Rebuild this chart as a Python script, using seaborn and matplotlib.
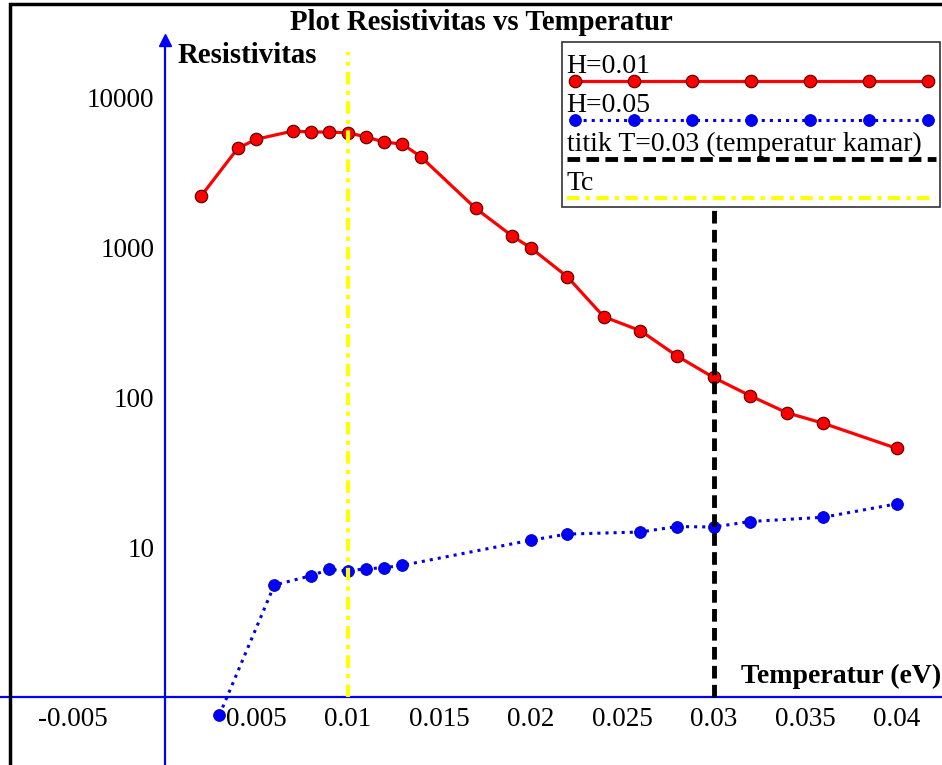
import numpy as np
import pandas as pd
import matplotlib
matplotlib.use('Agg')
import matplotlib.pyplot as plt
import matplotlib.patches as patches
from matplotlib.offsetbox import VPacker
import seaborn as sns

# data
T_h001 = [0.002, 0.004, 0.005, 0.007, 0.008, 0.009, 0.010, 0.011, 0.012, 0.013, 0.014,
          0.017, 0.019, 0.020, 0.022, 0.024, 0.026, 0.028, 0.030, 0.032, 0.034, 0.036, 0.040]
rho_h001 = [2190, 4550, 5230, 5930, 5850, 5840, 5780, 5430, 5010, 4860, 4000,
            1810, 1185, 990, 635, 343, 277, 188, 135, 102, 78.6, 66.8, 45.5]

T_h005 = [0.003, 0.006, 0.008, 0.009, 0.010, 0.011, 0.012, 0.013,
          0.020, 0.022, 0.026, 0.028, 0.030, 0.032, 0.036, 0.040]
rho_h005 = [0.76, 5.58, 6.44, 7.1, 6.92, 7.17, 7.28, 7.55,
            11.1, 12.2, 12.6, 13.7, 13.6, 14.8, 15.8, 19.4]

T_kamar = 0.03
Tc = 0.01
vline_top = 20000

xticks = [-0.005, 0.005, 0.01, 0.015, 0.02, 0.025, 0.03, 0.035, 0.04]
xtick_labels = ['-0.005', '0.005', '0.01', '0.015', '0.02', '0.025', '0.03', '0.035', '0.04']
yticks = [10, 100, 1000, 10000]
ytick_labels = ['10', '100', '1000', '10000']

df1 = pd.DataFrame({'T': T_h001, 'rho': rho_h001})
df2 = pd.DataFrame({'T': T_h005, 'rho': rho_h005})

sns.set_style('white')
plt.rcParams['font.family'] = ['Liberation Serif', 'DejaVu Serif']
plt.rcParams['text.color'] = 'black'

fig = plt.figure(figsize=(9.42, 7.65), dpi=100)
ax = fig.add_axes([0, 0, 1, 1])
ax.set_yscale('log')

sns.lineplot(data=df1, x='T', y='rho', ax=ax, color='#ff0000', lw=2.3, marker='o',
             markersize=9, markerfacecolor='#ff0000', markeredgecolor='#550000',
             markeredgewidth=0.8, label='H=0.01', sort=False, zorder=3)
sns.lineplot(data=df2, x='T', y='rho', ax=ax, color='#0000e0', lw=2.2, ls=':', marker='o',
             markersize=8.5, markerfacecolor='#0000ff', markeredgecolor='#0000aa',
             markeredgewidth=0.6, label='H=0.05', sort=False, zorder=3)

ax.vlines(T_kamar, 1, vline_top, colors='black', lw=3.5, linestyles=(0, (2.6, 1.3)),
          label='titik T=0.03 (temperatur kamar)', zorder=4)
ax.vlines(Tc, 1, vline_top, colors='#ffff00', lw=3.0, linestyles=(0, (3, 1.5, 1, 1.5)),
          label='Tc', zorder=4)

ax.set_xlim(-0.00899, 0.04248)
ax.set_ylim(10 ** -0.453, 10 ** 4.647)

# Maple-like axes crossing at T=0, rho=1
for s in ['top', 'right']:
    ax.spines[s].set_visible(False)
ax.spines['left'].set_position(('data', 0))
ax.spines['bottom'].set_position(('data', 1))
ax.spines['left'].set_color('#0000ff')
ax.spines['bottom'].set_color('#0000ff')
ax.spines['left'].set_linewidth(1.6)
ax.spines['bottom'].set_linewidth(1.6)
ax.spines['left'].set_bounds(10 ** -0.453, 24000)
ax.plot([0], [24000], marker='^', color='#0000ff', markersize=8, clip_on=False, zorder=5)

ax.set_xticks(xticks)
ax.set_xticklabels(xtick_labels)
ax.set_yticks(yticks)
ax.set_yticklabels(ytick_labels)
ax.minorticks_off()
ax.tick_params(axis='both', direction='inout', length=9, width=1, color='#0000ff',
               labelsize=19.5, labelcolor='black', pad=3)
ax.set_xlabel('')
ax.set_ylabel('')
ax.grid(False)

ax.text(0.511, 0.971, 'Plot Resistivitas vs Temperatur', transform=ax.transAxes,
        ha='center', va='center', fontsize=20.7, fontweight='bold')
ax.text(0.189, 0.928, 'Resistivitas', transform=ax.transAxes, ha='left', va='center',
        fontsize=20.8, fontweight='bold')
ax.text(0.787, 0.116, 'Temperatur (eV)', transform=ax.transAxes, ha='left', va='center',
        fontsize=20, fontweight='bold')

# a tiny blank title adds the top padding seen in the Maple legend
leg = ax.legend(loc='upper right', bbox_to_anchor=(0.998, 0.945), borderaxespad=0,
                handlelength=13.3, handleheight=0.35, numpoints=7, fontsize=20,
                frameon=True, fancybox=False, edgecolor='#333333', framealpha=1,
                borderpad=0.15, labelspacing=0.23, handletextpad=0.0,
                title=' ', title_fontsize=1)
leg.get_frame().set_linewidth(1.2)
# put each label above its line sample, as Maple does
for item in leg._legend_handle_box.get_children()[0].get_children():
    item.__class__ = VPacker
    item._children = item._children[::-1]
    item.align = 'left'
    item.sep = -4

fig.patches.append(patches.Rectangle((10 / 942, -0.1), 1.2, 1 - 4 / 765 + 0.1,
                                     transform=fig.transFigure, fill=False,
                                     lw=2.5, ec='black'))

fig.savefig('out.png', dpi=100)
